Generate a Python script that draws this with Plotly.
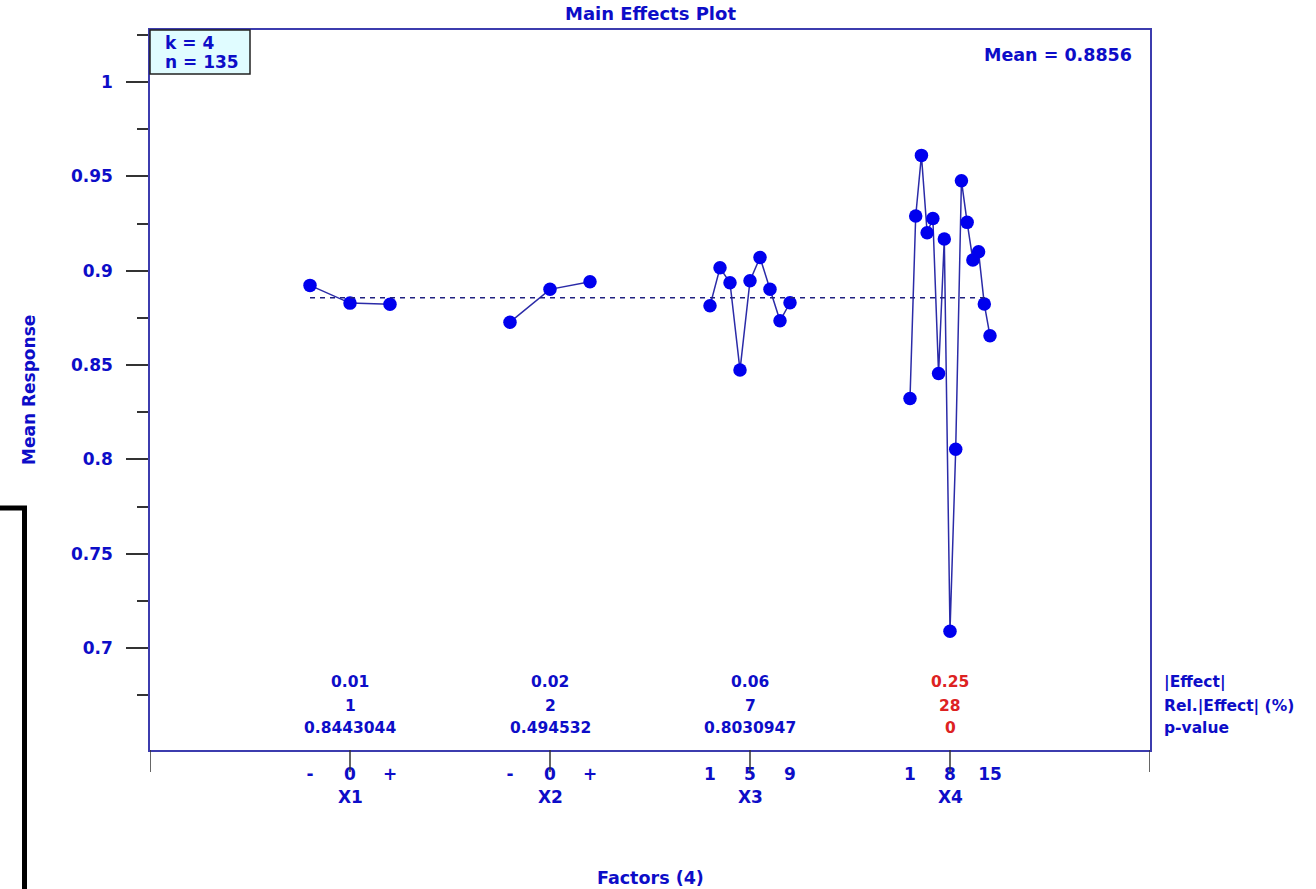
import numpy as np
import plotly.graph_objects as go

# ---- data -------------------------------------------------------------
factor_names = ["X1", "X2", "X3", "X4"]
x1_levels = ["-", "0", "+"]
x2_levels = ["-", "0", "+"]
x3_levels = [str(i) for i in range(1, 10)]
x4_levels = [str(i) for i in range(1, 16)]

x1_means = [0.8922, 0.8828, 0.8822]
x2_means = [0.8727, 0.8901, 0.8941]
x3_means = [0.8814, 0.9015, 0.8936, 0.8473, 0.8947, 0.9070, 0.8901, 0.8734, 0.8830]
x4_means = [0.8323, 0.9290, 0.9611, 0.9201, 0.9277, 0.8455, 0.9168, 0.7089,
            0.8054, 0.9477, 0.9256, 0.9056, 0.9100, 0.8823, 0.8655]

grand_mean = 0.8856
k_factors = 4
n_obs = 135

effect_txt = ["0.01", "0.02", "0.06", "0.25"]
rel_effect_txt = ["1", "2", "7", "28"]
pvalue_txt = ["0.8443044", "0.494532", "0.8030947", "0"]
significant = [False, False, False, True]

y_major = [0.7, 0.75, 0.8, 0.85, 0.9, 0.95, 1.0]
y_major_txt = ["0.7", "0.75", "0.8", "0.85", "0.9", "0.95", "1"]
y_minor = [0.675, 0.725, 0.775, 0.825, 0.875, 0.925, 0.975, 1.025]

# ---- style ------------------------------------------------------------
FONT = "DejaVu Sans"
BLUE_TXT = "#0d0dc8"
RED_TXT = "#dd2222"
FRAME = "#3c3cae"
TICK = "#333333"
LINE = "#2b2ba8"
MARK = "#0000ee"
HALF = 0.2          # half-width of each factor's level spread on the x axis

levels = [x1_levels, x2_levels, x3_levels, x4_levels]
means = [x1_means, x2_means, x3_means, x4_means]

fig = go.Figure()

tickvals, ticktext = [], []
for i, (name, lv, mv) in enumerate(zip(factor_names, levels, means)):
    c = i + 1
    xs = c + np.linspace(-HALF, HALF, len(lv))
    fig.add_trace(go.Scatter(
        x=xs, y=mv, mode="lines+markers", name=name, showlegend=False,
        line=dict(color=LINE, width=1.5),
        marker=dict(color=MARK, size=13.5, line=dict(width=0)),
    ))
    mid = len(lv) // 2
    for j in (0, mid, len(lv) - 1):
        tickvals.append(xs[j])
        ticktext.append(lv[j])

# grand mean reference line across the factor span
fig.add_trace(go.Scatter(
    x=[1 - HALF, len(factor_names) + HALF], y=[grand_mean, grand_mean],
    mode="lines", showlegend=False,
    line=dict(color="#202080", width=1.5, dash="5px,5px"),
))

# ---- annotations ------------------------------------------------------
ann = []
row_y = [0.0944, 0.0611, 0.0306]
for i in range(len(factor_names)):
    col = RED_TXT if significant[i] else BLUE_TXT
    for ry, txt in zip(row_y, [effect_txt[i], rel_effect_txt[i], pvalue_txt[i]]):
        ann.append(dict(x=i + 1, y=ry, xref="x", yref="paper", text=txt,
                         showarrow=False, xanchor="center", yanchor="middle",
                         font=dict(family=FONT, size=15.5, color=col, weight="bold")))
    # factor name under the level labels
    ann.append(dict(x=i + 1, y=(750 - 797) / 720, xref="x", yref="paper",
                     text=factor_names[i], showarrow=False,
                     xanchor="center", yanchor="middle", borderpad=0,
                     font=dict(family=FONT, size=17, color=BLUE_TXT, weight="bold")))
for ry, txt in zip(row_y, ["|Effect|", "Rel.|Effect| (%)", "p-value"]):
    ann.append(dict(x=1.012, y=ry, xref="paper", yref="paper", text=txt,
                     showarrow=False, xanchor="left", yanchor="middle",
                     font=dict(family=FONT, size=15.5, color=BLUE_TXT, weight="bold")))

ann.append(dict(x=0.5, y=1.0236, xref="paper", yref="paper", text="Main Effects Plot",
                showarrow=False, xanchor="center", yanchor="middle",
                font=dict(family=FONT, size=18, color=BLUE_TXT, weight="bold")))
ann.append(dict(x=0.984, y=0.9653, xref="paper", yref="paper",
                text=f"Mean = {grand_mean:.4f}",
                showarrow=False, xanchor="right", yanchor="middle",
                font=dict(family=FONT, size=17.5, color=BLUE_TXT, weight="bold")))
ann.append(dict(x=0.013, y=(750 - 43) / 720, xref="paper", yref="paper",
                text=f"k = {k_factors}", showarrow=False, xanchor="left", yanchor="middle",
                font=dict(family=FONT, size=17, color=BLUE_TXT, weight="bold")))
ann.append(dict(x=0.013, y=(750 - 62) / 720, xref="paper", yref="paper",
                text=f"n = {n_obs}", showarrow=False, xanchor="left", yanchor="middle",
                font=dict(family=FONT, size=17, color=BLUE_TXT, weight="bold")))
ann.append(dict(x=0.5, y=(750 - 878) / 720, xref="paper", yref="paper",
                text=f"Factors ({k_factors})", showarrow=False,
                xanchor="center", yanchor="middle",
                font=dict(family=FONT, size=17.5, color=BLUE_TXT, weight="bold")))
ann.append(dict(x=(29 - 150) / 1000, y=(750 - 390) / 720, xref="paper", yref="paper",
                text="Mean Response", textangle=-90, showarrow=False,
                xanchor="center", yanchor="middle",
                font=dict(family=FONT, size=17, color=BLUE_TXT, weight="bold")))

# ---- shapes -----------------------------------------------------------
shapes = [
    dict(type="rect", xref="paper", yref="paper", x0=0, x1=0.1,
         y0=(750 - 74) / 720, y1=1.0, fillcolor="#e0fcff",
         line=dict(color="#222222", width=1.5), layer="above"),
    dict(type="path", xref="paper", yref="paper",
         path="M -0.15 0.3361 L -0.1255 0.3361 L -0.1255 -0.2",
         line=dict(color="black", width=5)),
]
for c in range(0, len(factor_names) + 2):
    shapes.append(dict(type="line", xref="x", yref="paper", x0=c, x1=c,
                       y0=0, y1=-22 / 720, line=dict(color=TICK, width=1.5)))

fig.update_layout(
    width=1316, height=889,
    margin=dict(l=150, r=166, t=30, b=139),
    paper_bgcolor="white", plot_bgcolor="white",
    annotations=ann, shapes=shapes,
    xaxis=dict(range=[0, len(factor_names) + 1], showgrid=False, zeroline=False,
               showline=True, mirror=True, linecolor=FRAME, linewidth=1.5,
               tickvals=tickvals, ticktext=ticktext, ticks="",
               ticklabelstandoff=8,
               tickfont=dict(family=FONT, size=17, color=BLUE_TXT, weight="bold")),
    yaxis=dict(range=[0.64594, 1.02756], showgrid=False, zeroline=False,
               showline=True, mirror=True, linecolor=FRAME, linewidth=1.5,
               tickvals=y_major, ticktext=y_major_txt, ticks="outside",
               ticklen=22, tickwidth=1.5, tickcolor=TICK,
               ticklabelstandoff=10,
               tickfont=dict(family=FONT, size=17, color=BLUE_TXT, weight="bold"),
               minor=dict(tickvals=y_minor, ticks="outside", ticklen=11,
                          tickwidth=1.5, tickcolor=TICK)),
)

fig.write_html("out.html")
